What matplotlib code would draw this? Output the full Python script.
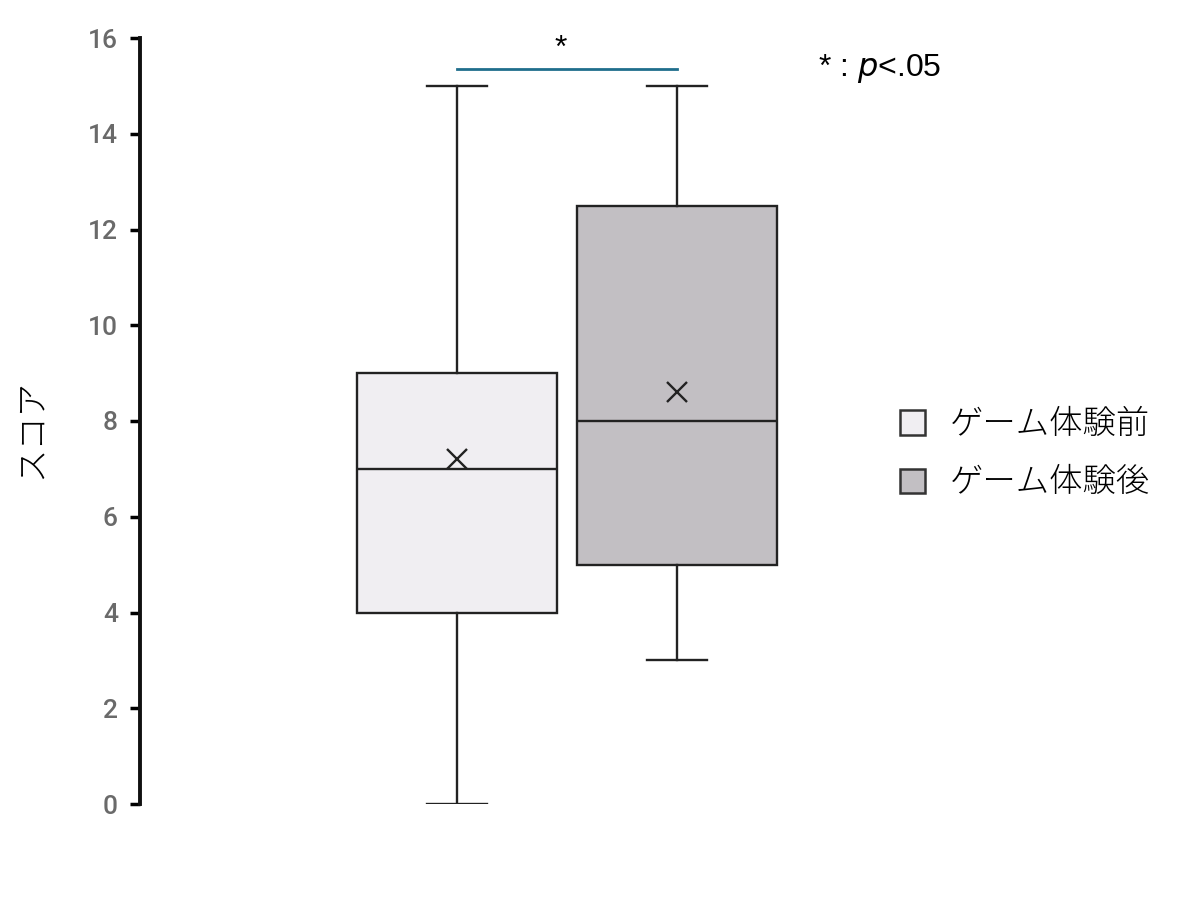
import matplotlib
matplotlib.use("Agg")
import matplotlib.pyplot as plt
from matplotlib.patches import Patch

# データ
groups = ['ゲーム体験前', 'ゲーム体験後']
whislo = [0, 3]
q1 = [4, 5]
med = [7, 8]
q3 = [9, 12.5]
whishi = [15, 15]
means = [7.2, 8.6]
colors = ['#f0eef2', '#c2bfc3']
yticks = [0, 2, 4, 6, 8, 10, 12, 14, 16]

plt.rcParams['font.family'] = ['Noto Sans CJK JP', 'DejaVu Sans']

fig = plt.figure(figsize=(12, 9.06), dpi=100)
ax = fig.add_axes([140 / 1200, 1 - 804 / 906, 1 - 140 / 1200, (804 - 38) / 906])

stats = []
for i in range(len(groups)):
    stats.append({'label': groups[i], 'whislo': whislo[i], 'q1': q1[i], 'med': med[i],
                  'q3': q3[i], 'whishi': whishi[i], 'mean': means[i], 'fliers': []})

pos = [1, 2]
lw = 1.7
ec = '#222222'
bp = ax.bxp(stats, positions=pos, widths=0.91, patch_artist=True, showmeans=True,
            showfliers=False,
            boxprops=dict(linewidth=lw, edgecolor=ec),
            medianprops=dict(color=ec, linewidth=lw),
            whiskerprops=dict(color=ec, linewidth=lw),
            capprops=dict(color=ec, linewidth=lw),
            meanprops=dict(marker='x', markeredgecolor=ec, markersize=14, markeredgewidth=1.7))
for box, c in zip(bp['boxes'], colors):
    box.set_facecolor(c)
for cap in bp['caps']:
    x0, x1 = cap.get_xdata()
    cx = (x0 + x1) / 2
    cap.set_xdata([cx - 0.135, cx + 0.135])

ax.set_xlim(1 - 317 / 220, 1 + 743 / 220)
ax.set_ylim(0, 16)
ax.set_yticks(yticks)
ax.set_yticklabels([str(t) for t in yticks], family=['Roboto', 'DejaVu Sans'],
                   fontsize=19, color='#6a6a6a', fontweight='medium')
ax.tick_params(axis='y', length=7, width=2.5, pad=9)
ax.set_xticks([])
for s in ['top', 'right', 'bottom']:
    ax.spines[s].set_visible(False)
ax.spines['left'].set_linewidth(2.8)
ax.spines['left'].set_color('#111111')

ax.set_ylabel('スコア', fontsize=24, fontweight='light')
ax.yaxis.set_label_coords(-0.086, 0.49)

# 有意差
ax.plot([pos[0], pos[1]], [15.35, 15.35], color='#1f6e8c', linewidth=2, clip_on=False)
ax.text(1.47, 15.45, '*', ha='center', va='bottom', fontsize=23, family='Liberation Sans')
ax.text(2.64, 15.37, r'* : $\it{p}$<.05', ha='left', va='center', fontsize=23,
        family=['Liberation Sans', 'DejaVu Sans'])

handles = [Patch(facecolor=c, edgecolor='#333333', linewidth=1.8) for c in colors]
ax.legend(handles, groups, loc='center left', bbox_to_anchor=(0.689, 0.457), frameon=False,
          prop={'size': 24, 'weight': 'light'}, handlelength=0.75, handleheight=0.75,
          labelspacing=0.72, handletextpad=0.75)

fig.savefig('out.png', dpi=100)
